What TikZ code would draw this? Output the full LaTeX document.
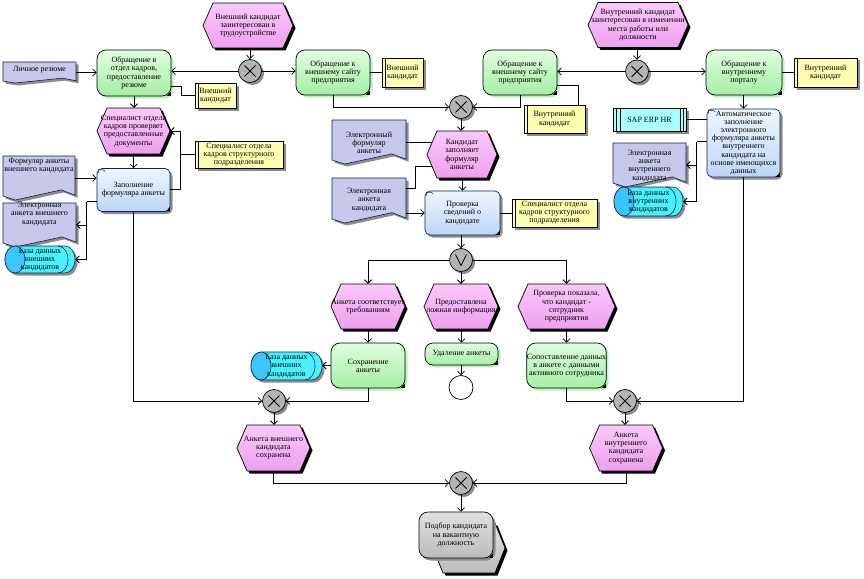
\documentclass[tikz,border=0pt]{standalone}
\usepackage{fontspec}
\setmainfont{Liberation Serif}
\usetikzlibrary{arrows.meta,shadows,calc}
\definecolor{evA}{RGB}{252,200,252}
\definecolor{evB}{RGB}{238,160,238}
\definecolor{fnA}{RGB}{222,255,222}
\definecolor{fnB}{RGB}{165,238,165}
\definecolor{fnS}{RGB}{190,240,190}
\definecolor{bfA}{RGB}{238,246,255}
\definecolor{bfB}{RGB}{188,214,246}
\definecolor{bfD}{RGB}{20,30,90}
\definecolor{orgc}{RGB}{255,255,178}
\definecolor{docc}{RGB}{198,200,236}
\definecolor{dbc}{RGB}{72,242,252}
\definecolor{dbd}{RGB}{58,198,246}
\definecolor{itc}{RGB}{168,255,255}
\definecolor{gatec}{RGB}{180,180,180}
\definecolor{piA}{RGB}{224,224,224}
\definecolor{piB}{RGB}{188,188,188}
\tikzset{
 txt/.style={font=\fontsize{8}{8.2}\selectfont, align=center, inner sep=0pt, text=black},
 lnk/.style={line width=0.8pt, draw=black},
 arr/.style={lnk, -{Straight Barb[length=3.5pt,width=7pt]}},
 grayshadow/.style={drop shadow={shadow xshift=2.5pt, shadow yshift=-2.5pt, fill=black!45, opacity=1}},
 blackshadow/.style={drop shadow={shadow xshift=2.5pt, shadow yshift=-2.5pt, fill=black, opacity=1}},
 evshape/.style={draw=black, line width=0.7pt, top color=evA, bottom color=evB, blackshadow},
 fn/.style={txt, draw=black, line width=0.7pt, rounded corners=9pt, top color=fnA, bottom color=fnB, drop shadow={shadow xshift=2.5pt, shadow yshift=-2.5pt, fill=fnS, opacity=1}},
 bfn/.style={txt, draw=bfD, line width=0.7pt, rounded corners=5pt, top color=bfA, bottom color=bfB, grayshadow},
 orgst/.style={txt, draw=black, line width=0.6pt, fill=orgc, grayshadow},
 itst/.style={txt, draw=black, line width=0.6pt, fill=itc, grayshadow},
 docshape/.style={draw=bfD, line width=0.6pt, fill=docc, grayshadow},
 dbshape/.style={draw=bfD, line width=0.6pt, fill=dbc, grayshadow},
 gate/.style={circle, draw=black, line width=0.7pt, fill=gatec, minimum size=23pt, inner sep=0pt, grayshadow},
 endev/.style={circle, draw=black, line width=0.7pt, fill=white, minimum size=24pt, inner sep=0pt},
 gmark/.style={line width=0.8pt, draw=black},
 thinln/.style={line width=0.6pt, draw=black},
}
% event: name, cx, cy, w, h, text
\newcommand\evt[6]{%
 \path[evshape] ({#2-#4/2},#3) -- ({#2-#4/2+10},{#3-#5/2}) -- ({#2+#4/2-10},{#3-#5/2}) -- ({#2+#4/2},#3) -- ({#2+#4/2-10},{#3+#5/2}) -- ({#2-#4/2+10},{#3+#5/2}) -- cycle;
 \node[txt, minimum width=#4pt, minimum height=#5pt] (#1) at (#2,#3) {#6};}
% gate marks
\newcommand\xorg[3]{\node[gate] (#1) at (#2,#3) {};
 \draw[gmark] ($(#1.center)+(-5.5,-5.5)$) -- ($(#1.center)+(5.5,5.5)$) ($(#1.center)+(-5.5,5.5)$) -- ($(#1.center)+(5.5,-5.5)$);}
\newcommand\orgate[3]{\node[gate] (#1) at (#2,#3) {};
 \draw[gmark] ($(#1.center)+(-5.5,-5.5)$) -- ($(#1.center)+(0,5.5)$) -- ($(#1.center)+(5.5,-5.5)$);}
% org unit: name, cx, cy, w, h, text
\newcommand\orgbox[6]{\node[orgst, minimum width=#4pt, minimum height=#5pt] (#1) at (#2,#3) {#6};
 \draw[thinln] ($(#1.north west)+(3.5,0)$) -- ($(#1.south west)+(3.5,0)$);}
% function marker
\newcommand\fmark[1]{\fill[black] ($(#1.south east)+(-0.5,-0.5)$) -- ++(-4,0) -- ++(4,-4) -- cycle;}
\newcommand\tabicon[1]{\draw[line width=0.5pt, draw=bfD] ($(#1.north west)+(1.8,5)$) -- ++(0,-3.3) -- ++(5,0) -- ++(1.5,1.5);}
% document: name, x1, y1, x2, y2, text y, text
\newcommand\docu[7]{%
 \path[docshape] (#2,#3) -- (#4,#3) -- (#4,{#5-0.11*(#5-#3)}) -- ({#2+0.81*(#4-#2)},{#5-0.23*(#5-#3)}) -- ({#2+0.17*(#4-#2)},#5) -- (#2,{#5-0.09*(#5-#3)}) -- cycle;
 \node[inner sep=0pt, minimum width={(#4-#2)*1pt}, minimum height={(#5-#3)*1pt}] (#1) at ({(#2+#4)/2},{(#3+#5)/2}) {};
 \node[txt] (#1t) at ({(#2+#4)/2},#6) {#7};}
% database: name, x1, y1, x2, y2, text
\newcommand\dbase[6]{%
 \pgfmathsetmacro\dbym{(#3+#5)/2}%
 \pgfmathsetmacro\dbky{0.552*(#5-#3)/2}%
 \pgfmathsetmacro\dbxl{#2+10}%
 \pgfmathsetmacro\dbxr{#4-10}%
 \path[dbshape] (\dbxl,#3) -- (\dbxr,#3) .. controls ({\dbxr+5.52},#3) and (#4,{\dbym-\dbky}) .. (#4,\dbym) .. controls (#4,{\dbym+\dbky}) and ({\dbxr+5.52},#5) .. (\dbxr,#5) -- (\dbxl,#5) .. controls ({\dbxl-5.52},#5) and (#2,{\dbym+\dbky}) .. (#2,\dbym) .. controls (#2,{\dbym-\dbky}) and ({\dbxl-5.52},#3) .. cycle;
 \path[draw=bfD, line width=0.6pt, fill=dbd] (\dbxl,\dbym) ellipse [x radius=10, y radius={(#5-#3)/2}];
 \path[draw=bfD, line width=0.6pt] ({\dbxr-7},#3) .. controls ({\dbxr-1.48},#3) and ({#4-7},{\dbym-\dbky}) .. ({#4-7},\dbym) .. controls ({#4-7},{\dbym+\dbky}) and ({\dbxr-1.48},#5) .. ({\dbxr-7},#5);
 \node[txt, minimum width={(#4-#2)*1pt}, minimum height={(#5-#3)*1pt}] (#1) at ({(#2+#4)/2},\dbym) {#6};}
\begin{document}
\begin{tikzpicture}[x=1pt,y=-1pt]
\useasboundingbox (0,0) rectangle (864,578);
% ---------- events
\evt{E1}{248}{25.5}{90}{45}{Внешний кандидат\\заинтересован в\\трудоустройстве}
\evt{E3}{638}{25}{100}{45}{Внутренний кандидат\\заинтересован в изменении\\места работы или\\должности}
\evt{E9}{133.5}{131}{73}{46}{Специалист отдела\\кадров проверяет\\предоставленные\\документы}
\evt{E2}{462}{154.5}{70}{47}{Кандидат\\заполняет\\формуляр\\анкеты}
\evt{E4}{368}{306.5}{74}{45}{Анкета соответствует\\требованиям}
\evt{E5}{461}{306.5}{74}{45}{Предоставлена\\ложная информация}
\evt{E6}{566.5}{306.5}{97}{45}{Проверка показала,\\что кандидат -\\сотрудник\\предприятия}
\evt{E7}{273.5}{448}{73}{46}{Анкета внешнего\\кандидата\\сохранена}
\evt{E8}{626}{448}{73}{46}{Анкета\\внутреннего\\кандидата\\сохранена}
% ---------- functions
\node[fn, minimum width=74pt, minimum height=46pt] (F1) at (134,73) {Обращение в\\отдел кадров,\\предоставление\\резюме};
\node[fn, minimum width=74pt, minimum height=45pt] (F2) at (333,72.5) {Обращение к\\внешнему сайту\\предприятия};
\node[fn, minimum width=74pt, minimum height=45pt] (F3) at (520,72.5) {Обращение к\\внешнему сайту\\предприятия};
\node[fn, minimum width=76pt, minimum height=45pt] (F4) at (744,72.5) {Обращение к\\внутреннему\\порталу};
\node[fn, minimum width=74pt, minimum height=45pt] (F7) at (368,365.5) {Сохранение\\анкеты};
\node[fn, rounded corners=8pt, minimum width=73pt, minimum height=22pt] (F8) at (461.5,354) {Удаление анкеты};
\node[fn, minimum width=73pt, minimum height=45pt] (F9) at (566.5,365.5) {Сопоставление данных\\в анкете с данными\\активного сотрудника};
\node[bfn, minimum width=73pt, minimum height=68pt] (F5) at (743.5,143) {Автоматическое\\заполнение\\электронного\\формуляра анкеты\\внутреннего\\кандидата на\\основе имеющихся\\данных};
\node[bfn, minimum width=75pt, minimum height=44pt] (F6) at (462.5,213) {Проверка\\сведений о\\кандидате};
\node[bfn, minimum width=73pt, minimum height=43pt] (F10) at (133.5,190) {Заполнение\\формуляра анкеты};
\foreach \f in {F1,F2,F3,F4,F5,F6,F7,F8,F9,F10} {\fmark{\f}}
\foreach \f in {F5,F6,F10} {\tabicon{\f}}
% ---------- process interface
\path[draw=black, line width=0.7pt, top color=piA, bottom color=piB, blackshadow] (433,548) -- (443,523) -- (495,523) -- (505,548) -- (495,573) -- (443,573) -- cycle;
\node[txt, draw=black, line width=0.7pt, rounded corners=9pt, top color=piA, bottom color=piB, grayshadow, minimum width=74pt, minimum height=46pt] (PI) at (456,535) {Подбор кандидата\\на вакантную\\должность};
\fmark{PI}
% ---------- organisational units and IT system
\orgbox{O1}{215.5}{95.5}{41}{25}{Внешний\\кандидат}
\orgbox{O2}{402.5}{72.5}{41}{29}{Внешний\\кандидат}
\orgbox{O3}{554.5}{119}{61}{28}{Внутренний\\кандидат}
\orgbox{O4}{825.5}{72.5}{63}{29}{Внутренний\\кандидат}
\orgbox{O5}{554.5}{213}{85}{28}{Специалист отдела\\кадров структурного\\подразделения}
\orgbox{O6}{239}{154.5}{88}{27}{Специалист отдела\\кадров структурного\\подразделения}
\node[itst, minimum width=73pt, minimum height=23pt] (IT) at (649.5,119.5) {SAP ERP HR};
\draw[thinln] ($(IT.north west)+(4,0)$) -- ($(IT.south west)+(4,0)$) ($(IT.north west)+(7.3,0)$) -- ($(IT.south west)+(7.3,0)$)
 ($(IT.north east)+(-3,0)$) -- ($(IT.south east)+(-3,0)$) ($(IT.north east)+(-6,0)$) -- ($(IT.south east)+(-6,0)$);
% ---------- documents
\docu{D1}{3}{62}{76}{83}{70}{Личное резюме}
\docu{D2}{3}{156}{75}{200}{166}{Формуляр анкеты\\внешнего кандидата}
\docu{D3}{3}{203}{76}{247}{214}{Электронная\\анкета внешнего\\кандидата}
\docu{D4}{332}{120}{406}{164}{143}{Электронный\\формуляр\\анкеты}
\docu{D5}{613}{143}{686}{187}{166}{Электронная\\анкета\\внутреннего\\кандидата}
\docu{D6}{332}{178}{406}{223}{200}{Электронная\\анкета\\кандидата}
% ---------- databases
\dbase{DB1}{5}{246}{75}{273}{База данных\\внешних\\кандидатов}
\dbase{DB2}{614}{187}{683}{216}{База данных\\внутренних\\кандидатов}
\dbase{DB3}{251}{352}{322}{380}{База данных\\внешних\\кандидатов}
% ---------- gates
\xorg{X1}{250}{71}
\xorg{X2}{461}{107}
\xorg{X3}{637}{71.5}
\orgate{OR}{461}{260}
\xorg{X4}{274}{401}
\xorg{X5}{625}{401}
\xorg{X6}{461}{483}
\node[endev] (END) at (461,387.5) {};
% ---------- connectors, top row
\draw[arr] (D1.east) -- (D1.east -| F1.west);
\draw[arr] (E1.south -| X1.north) -- (X1.north);
\draw[arr] (X1.west) -- (X1.west -| F1.east);
\draw[arr] (X1.east) -- (X1.east -| F2.west);
\draw[lnk] ($(F1.south east)+(0,-10)$) -- ++(10,0) |- (O1.west);
\draw[lnk] (F2.east) -- (F2.east -| O2.west);
\draw[lnk] ($(F3.south east)+(0,-10)$) -| ($(O3.north east)+(-7,0)$);
\draw[arr] (E3.south -| X3.north) -- (X3.north);
\draw[arr] (X3.west) -- (X3.west -| F3.east);
\draw[arr] (X3.east) -- (X3.east -| F4.west);
\draw[lnk] (F4.east) -- (F4.east -| O4.west);
\draw[arr] (F2.south) |- (X2.west);
\draw[arr] (F3.south) |- (X2.east);
% left column
\draw[arr] (F1.south) -- (F1.south |- E9.north);
\draw[arr] (E9.south) -- (F10.north);
\draw[arr] ($(F10.east)+(0,-1)$) -- ++(10,0) |- (E9.east);
\draw[lnk] (O6.west) -- ++(-15,0);
\draw[arr] (D2.east) -- (D2.east -| F10.west);
\draw[lnk] ($(F10.south west)+(0,-10)$) -- ++(-10,0) coordinate (k1);
\draw[arr] (k1) |- (DB1.east);
\draw[arr] (k1 |- D3.east) -- (D3.east);
\draw[arr] (F10.south) |- (X4.west);
% middle column
\draw[arr] (X2.south) -- (X2.south |- E2.north);
\draw[lnk] (D4.east) -- ($(D4.east -| E2.west)+(5,0)$);
\draw[lnk] ($(E2.west)+(5,12)$) -| ($(D6.north east)+(9,11)$) -- ($(D6.north east)+(0,11)$);
\draw[arr] (F6.west -| D6.east) -- (F6.west);
\draw[arr] (E2.south -| F6.north) -- (F6.north);
\draw[lnk] (F6.east) -- (F6.east -| O5.west);
\draw[arr] (F6.south -| OR.north) -- (OR.north);
\draw[arr] (OR.west) -| (E4.north);
\draw[arr] (OR.east) -| (E6.north);
\draw[arr] (OR.south) -- (OR.south |- E5.north);
\draw[arr] (E4.south) -- (F7.north);
\draw[arr] (E5.south -| F8.north) -- (F8.north);
\draw[arr] (E6.south) -- (F9.north);
\draw[arr] (F7.west) -- (F7.west -| DB3.east);
\draw[arr] (F8.south -| END.north) -- (END.north);
\draw[arr] (F7.south) |- (X4.east);
\draw[arr] (F9.south) |- (X5.west);
% right column
\draw[arr] (F4.south -| F5.north) -- (F5.north);
\draw[lnk] (IT.east) -- (IT.east -| F5.west);
\draw[lnk] ($(F5.north west)+(0,33)$) -- ++(-10,0) coordinate (k2);
\draw[arr] (k2) |- (DB2.east);
\draw[arr] (k2 |- D5.east) -- (D5.east);
\draw[arr] (F5.south) |- (X5.east);
% bottom
\draw[arr] (X4.south) -- (X4.south |- E7.north);
\draw[arr] (X5.south) -- (X5.south |- E8.north);
\draw[arr] (E7.south) |- (X6.west);
\draw[arr] (E8.south) |- (X6.east);
\draw[arr] (X6.south) -- (X6.south |- PI.north);
\end{tikzpicture}
\end{document}
